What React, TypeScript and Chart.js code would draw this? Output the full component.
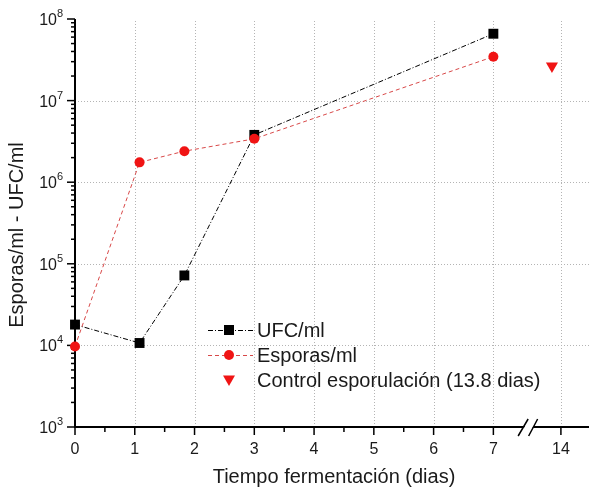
import React, { useEffect, useRef } from 'react';
import { Chart, registerables } from 'chart.js';

Chart.register(...registerables);

// ---- data ----
const DAYS = [0, 1.08, 1.83, 3, 7];
const UFC = [1.8e4, 1.07e4, 7.2e4, 3.8e6, 6.6e7];
const ESPORAS = [9.7e3, 1.75e6, 2.4e6, 3.4e6, 3.45e7];
const CONTROL_DAYS = [13.8];
const CONTROL = [2.65e7];

const X_TICKS = [0, 1, 2, 3, 4, 5, 6, 7, 14];
const X_MINOR = [0.5, 1.5, 2.5, 3.5, 4.5, 5.5, 6.5];
const Y_EXPONENTS = [3, 4, 5, 6, 7, 8];
const Y_GRID_EXPONENTS = [4, 5, 6, 7];

const SERIES_LABELS = ['UFC/ml', 'Esporas/ml', 'Control esporulación (13.8 dias)'];
const X_TITLE = 'Tiempo fermentación (dias)';
const Y_TITLE = 'Esporas/ml - UFC/ml';

// broken x axis: days after the break are compressed
const BREAK_DAY = 7;
const POS_OF_14 = 8.13;
const RIGHT_SEG_SCALE = 0.75;
const xPos = (d: number) => (d <= BREAK_DAY ? d : POS_OF_14 - (14 - d) * RIGHT_SEG_SCALE);

const FONT = '"Liberation Sans", Arial, Helvetica, sans-serif';
const TEXT = '#1a1a1a';
const RED_LINE = '#d84848';
const RED = '#f01414';
const UFC_DASH = [5, 2, 1, 2];
const ESP_DASH = [4, 3];

function drawMarker(ctx: CanvasRenderingContext2D, kind: string, x: number, y: number) {
  ctx.save();
  ctx.setLineDash([]);
  if (kind === 'rect') {
    ctx.fillStyle = '#000';
    ctx.fillRect(x - 5, y - 5, 10, 10);
  } else if (kind === 'circle') {
    ctx.fillStyle = RED;
    ctx.beginPath();
    ctx.arc(x, y, 5, 0, Math.PI * 2);
    ctx.fill();
  } else {
    ctx.fillStyle = RED;
    ctx.beginPath();
    ctx.moveTo(x - 6, y - 4.5);
    ctx.lineTo(x + 6, y - 4.5);
    ctx.lineTo(x, y + 6);
    ctx.closePath();
    ctx.fill();
  }
  ctx.restore();
}

const axesPlugin = {
  id: 'customAxes',
  beforeDatasetsDraw(chart: any) {
    const ctx: CanvasRenderingContext2D = chart.ctx;
    const xs = chart.scales.x;
    const ys = chart.scales.y;
    const { left, right, top, bottom } = chart.chartArea;
    ctx.save();
    // grid
    ctx.strokeStyle = '#b4b4b4';
    ctx.lineWidth = 1;
    ctx.setLineDash([1, 2]);
    X_TICKS.forEach((d) => {
      if (d === 0) return;
      const px = Math.round(xs.getPixelForValue(xPos(d))) + 0.5;
      ctx.beginPath();
      ctx.moveTo(px, bottom);
      ctx.lineTo(px, top);
      ctx.stroke();
    });
    Y_GRID_EXPONENTS.forEach((e) => {
      const py = Math.round(ys.getPixelForValue(Math.pow(10, e))) + 0.5;
      ctx.beginPath();
      ctx.moveTo(left, py);
      ctx.lineTo(right, py);
      ctx.stroke();
    });
    ctx.setLineDash([]);

    // axes lines
    ctx.strokeStyle = '#000';
    ctx.lineWidth = 2;
    ctx.beginPath();
    ctx.moveTo(left, top);
    ctx.lineTo(left, bottom + 1);
    ctx.moveTo(left - 1, bottom);
    ctx.lineTo(right, bottom);
    ctx.stroke();

    // y ticks
    ctx.lineWidth = 1.5;
    Y_EXPONENTS.forEach((e) => {
      const py = ys.getPixelForValue(Math.pow(10, e));
      ctx.beginPath();
      ctx.moveTo(left, py);
      ctx.lineTo(left - 8, py);
      ctx.stroke();
      if (e < 8) {
        for (let m = 2; m <= 9; m++) {
          const pm = ys.getPixelForValue(m * Math.pow(10, e));
          ctx.beginPath();
          ctx.moveTo(left, pm);
          ctx.lineTo(left - 4, pm);
          ctx.stroke();
        }
      }
    });
    // x ticks
    X_TICKS.forEach((d) => {
      const px = xs.getPixelForValue(xPos(d));
      ctx.beginPath();
      ctx.moveTo(px, bottom);
      ctx.lineTo(px, bottom + 8);
      ctx.stroke();
    });
    X_MINOR.forEach((d) => {
      const px = xs.getPixelForValue(xPos(d));
      ctx.beginPath();
      ctx.moveTo(px, bottom);
      ctx.lineTo(px, bottom + 5);
      ctx.stroke();
    });

    // axis break "//"
    const bx = (xs.getPixelForValue(xPos(BREAK_DAY)) + xs.getPixelForValue(xPos(14))) / 2;
    ctx.fillStyle = '#fff';
    ctx.beginPath();
    ctx.moveTo(bx - 8, bottom + 9);
    ctx.lineTo(bx + 2, bottom - 8);
    ctx.lineTo(bx + 10, bottom - 8);
    ctx.lineTo(bx + 1, bottom + 9);
    ctx.closePath();
    ctx.fill();
    ctx.strokeStyle = '#000';
    ctx.lineWidth = 1.5;
    ctx.beginPath();
    ctx.moveTo(bx - 9, bottom + 9);
    ctx.lineTo(bx + 1, bottom - 8);
    ctx.moveTo(bx + 1.5, bottom + 9);
    ctx.lineTo(bx + 10.5, bottom - 8);
    ctx.stroke();

    // tick labels
    ctx.fillStyle = TEXT;
    ctx.textBaseline = 'alphabetic';
    Y_EXPONENTS.forEach((e) => {
      const py = ys.getPixelForValue(Math.pow(10, e));
      ctx.font = `16px ${FONT}`;
      ctx.textAlign = 'right';
      ctx.fillText('10', left - 18, py + 6);
      ctx.font = `11px ${FONT}`;
      ctx.textAlign = 'left';
      ctx.fillText(String(e), left - 18, py - 2);
    });
    ctx.font = `16px ${FONT}`;
    ctx.textAlign = 'center';
    X_TICKS.forEach((d) => {
      const px = xs.getPixelForValue(xPos(d));
      ctx.fillText(String(d), px, bottom + 26.5);
    });

    // titles
    ctx.font = `20px ${FONT}`;
    ctx.textAlign = 'center';
    ctx.fillText(X_TITLE, 334, 483);
    ctx.save();
    ctx.translate(23, 235);
    ctx.rotate(-Math.PI / 2);
    ctx.fillText(Y_TITLE, 0, 0);
    ctx.restore();
    ctx.restore();
  },
  afterDatasetsDraw(chart: any) {
    const ctx: CanvasRenderingContext2D = chart.ctx;
    ctx.save();
    const rows = [330, 355, 380];
    const kinds = ['rect', 'circle', 'tri'];
    const x0 = 208;
    const x1 = 253;
    const mx = 229;
    rows.forEach((ry, i) => {
      if (i < 2) {
        ctx.strokeStyle = i === 0 ? '#000' : RED_LINE;
        ctx.lineWidth = 1;
        ctx.setLineDash(i === 0 ? UFC_DASH : ESP_DASH);
        ctx.beginPath();
        ctx.moveTo(x0, ry + 0.5);
        ctx.lineTo(x1, ry + 0.5);
        ctx.stroke();
      }
      drawMarker(ctx, kinds[i], mx, ry);
      ctx.setLineDash([]);
      ctx.fillStyle = TEXT;
      ctx.font = `20px ${FONT}`;
      ctx.textAlign = 'left';
      ctx.textBaseline = 'alphabetic';
      ctx.fillText(SERIES_LABELS[i], 257, ry + 7);
    });
    ctx.restore();
  },
};

export default function App() {
  const ref = useRef<HTMLCanvasElement | null>(null);
  useEffect(() => {
    if (!ref.current) return;
    const chart = new Chart(ref.current, {
      type: 'line',
      data: {
        datasets: [
          {
            label: SERIES_LABELS[0],
            data: DAYS.map((d, i) => ({ x: xPos(d), y: UFC[i] })),
            borderColor: '#000',
            borderWidth: 1,
            borderDash: UFC_DASH,
            pointStyle: 'rect',
            pointRadius: 7,
            pointBackgroundColor: '#000',
            pointBorderColor: '#000',
            pointBorderWidth: 0,
            tension: 0,
            clip: false,
            order: 2,
          },
          {
            label: SERIES_LABELS[1],
            data: DAYS.map((d, i) => ({ x: xPos(d), y: ESPORAS[i] })),
            borderColor: RED_LINE,
            borderWidth: 1,
            borderDash: ESP_DASH,
            pointStyle: 'circle',
            pointRadius: 5,
            pointBackgroundColor: RED,
            pointBorderColor: RED,
            pointBorderWidth: 0,
            tension: 0,
            clip: false,
            order: 1,
          },
          {
            label: SERIES_LABELS[2],
            data: CONTROL_DAYS.map((d, i) => ({ x: xPos(d), y: CONTROL[i] })),
            showLine: false,
            pointStyle: 'triangle',
            rotation: 180,
            pointRadius: 7,
            pointBackgroundColor: RED,
            pointBorderColor: RED,
            pointBorderWidth: 0,
            clip: false,
            order: 0,
          },
        ],
      } as any,
      options: {
        responsive: false,
        animation: false,
        devicePixelRatio: 1,
        layout: { autoPadding: false, padding: { top: 19, left: 0, right: 0, bottom: 0 } },
        plugins: { legend: { display: false }, tooltip: { enabled: false } },
        scales: {
          x: {
            type: 'linear',
            min: 0,
            max: 8.6,
            ticks: { display: false },
            grid: { display: false, drawTicks: false },
            border: { display: false },
            afterFit: (s: any) => {
              s.height = 62;
            },
          },
          y: {
            type: 'logarithmic',
            min: 1e3,
            max: 1e8,
            ticks: { display: false },
            grid: { display: false, drawTicks: false },
            border: { display: false },
            afterFit: (s: any) => {
              s.width = 75;
            },
          },
        },
      } as any,
      plugins: [axesPlugin],
    });
    return () => chart.destroy();
  }, []);
  return (
    <div style={{ position: 'absolute', left: 0, top: 0, width: 589, height: 489, background: '#fff' }}>
      <canvas ref={ref} width={589} height={489} />
    </div>
  );
}
